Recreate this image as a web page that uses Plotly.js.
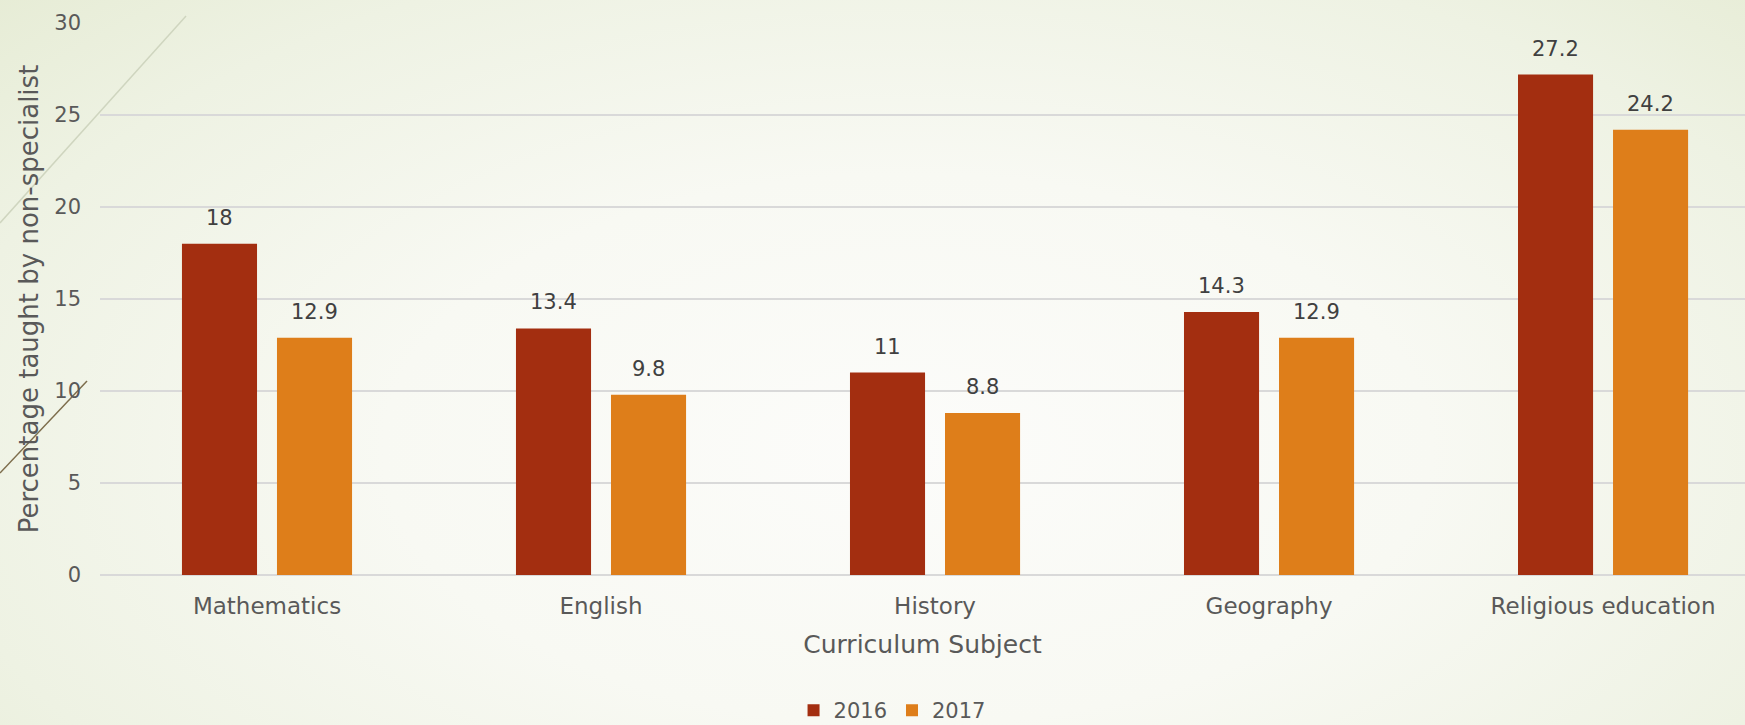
<!DOCTYPE html>
<html>
<head>
<meta charset="utf-8">
<script src="https://cdn.plot.ly/plotly-3.0.1.min.js"></script>
<style>
  html, body { margin: 0; padding: 0; }
  body {
    width: 1745px; height: 725px; overflow: hidden;
    background: radial-gradient(ellipse 75% 95% at 52% 62%, #fcfcfa 0%, #f8f9f3 40%, #eef2e3 75%, #e5ebd3 100%);
  }
  #chart { width: 1745px; height: 725px; }
</style>
</head>
<body>
<div id="chart"></div>
<script>
// Share of lessons taught by a non-specialist teacher, by subject
const subjects = ["Mathematics", "English", "History", "Geography", "Religious education"];
const years = ["2016", "2017"];
const values2016 = [18, 13.4, 11, 14.3, 27.2];
const values2017 = [12.9, 9.8, 8.8, 12.9, 24.2];
const yTicks = [0, 5, 10, 15, 20, 25, 30];

const colors = ["#A32E10", "#DE7E1A"];
const seriesValues = [values2016, values2017];

const fontFamily = "DejaVu Sans, sans-serif";
const textGrey = "#595959";

const traces = seriesValues.map((vals, i) => ({
  type: "bar",
  name: years[i],
  x: subjects,
  y: vals,
  marker: { color: colors[i], line: { width: 0 } },
  hoverinfo: "x+y+name"
}));

// value labels above each bar, shifted sideways onto their bar in the group
const slotShift = 47.5;
const annotations = [];
seriesValues.forEach((vals, i) => {
  vals.forEach((v, j) => {
    annotations.push({
      x: subjects[j], y: v, xref: "x", yref: "y",
      text: String(v), showarrow: false,
      xshift: (i === 0 ? -1 : 1) * slotShift,
      yshift: 26, yanchor: "middle",
      font: { family: fontFamily, size: 21, color: "#404040" }
    });
  });
});

const layout = {
  width: 1745, height: 725,
  paper_bgcolor: "rgba(0,0,0,0)",
  plot_bgcolor: "rgba(0,0,0,0)",
  margin: { l: 100, r: 0, t: 23, b: 150, pad: 0 },
  barmode: "group",
  bargap: 0.431,
  bargroupgap: 0.21,
  font: { family: fontFamily, color: textGrey },
  xaxis: {
    type: "category",
    automargin: false,
    range: [-0.5, 4.425],
    showgrid: false,
    showline: false,
    ticks: "",
    ticklabelstandoff: 15,
    tickfont: { family: fontFamily, size: 23, color: textGrey },
    title: { text: "Curriculum Subject", standoff: 17,
             font: { family: fontFamily, size: 25, color: textGrey } }
  },
  yaxis: {
    automargin: false,
    range: [0, 30],
    tickvals: yTicks,
    ticktext: yTicks.map(String),
    showgrid: true,
    gridcolor: "#d9d9d9",
    gridwidth: 1.5,
    zeroline: true,
    zerolinecolor: "#d9d9d9",
    zerolinewidth: 1.5,
    showline: false,
    ticks: "",
    ticklabelstandoff: 18,
    tickfont: { family: fontFamily, size: 21, color: textGrey },
    title: { text: "Percentage taught by non-specialist", standoff: 8,
             font: { family: fontFamily, size: 26, color: textGrey } }
  },
  legend: {
    orientation: "h",
    xref: "container", yref: "container",
    x: 0.5112, xanchor: "center",
    y: 0.02, yanchor: "middle",
    font: { family: fontFamily, size: 21, color: textGrey },
    itemwidth: 30,
    bgcolor: "rgba(0,0,0,0)"
  },
  annotations: annotations,
  shapes: [
    { type: "line", xref: "paper", yref: "paper", layer: "below",
      x0: -0.0608, y0: 0.6377, x1: 0.0523, y1: 1.0127,
      line: { color: "#cfd5bf", width: 1.5 } },
    { type: "line", xref: "paper", yref: "paper", layer: "below",
      x0: -0.0608, y0: 0.1848, x1: -0.0079, y1: 0.3514,
      line: { color: "#7d6d4c", width: 1.5 } }
  ],
  showlegend: true
};

Plotly.newPlot("chart", traces, layout, { displayModeBar: false, staticPlot: true });
</script>
</body>
</html>
